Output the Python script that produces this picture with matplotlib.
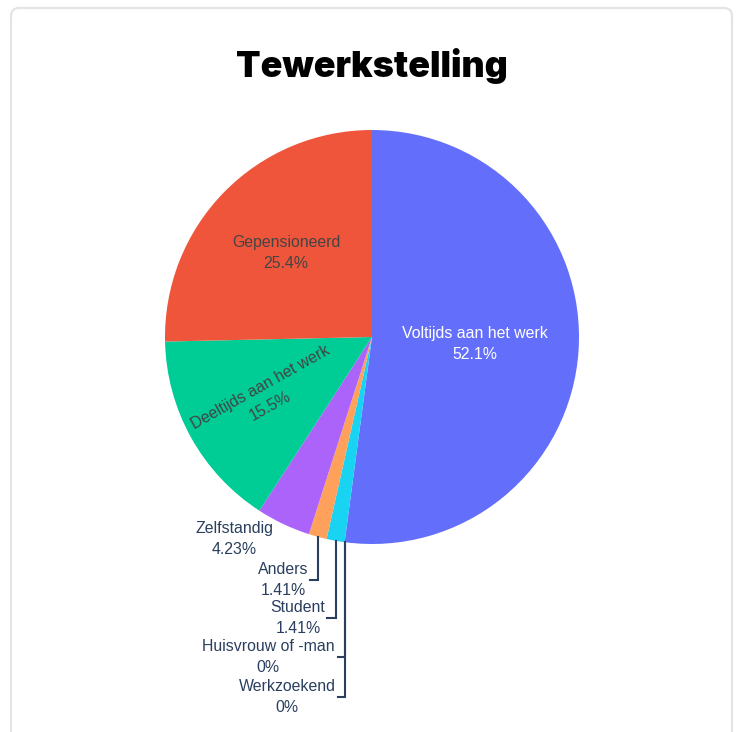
import matplotlib.pyplot as plt
from matplotlib.patches import FancyBboxPatch
import numpy as np

# data (counts of respondents, total 71)
labels = ["Voltijds aan het werk", "Huisvrouw of -man", "Werkzoekend", "Student",
          "Anders", "Zelfstandig", "Deeltijds aan het werk", "Gepensioneerd"]
counts = [37, 0, 0, 1, 1, 3, 11, 18]
pct_text = ["52.1%", "0%", "0%", "1.41%", "1.41%", "4.23%", "15.5%", "25.4%"]
colors = ["#636efa", "#FF6692", "#B6E880", "#19d3f3", "#FFA15A", "#ab63fa", "#00cc96", "#EF553B"]

W, H = 740, 732
CX, CY, R = 372, 337, 207   # pie centre / radius in pixels


def to_data(px, py):
    return (px - CX) / R, (CY - py) / R


def main():
    plt.rcParams['font.family'] = ['Liberation Sans', 'DejaVu Sans']
    fig = plt.figure(figsize=(W / 100, H / 100), dpi=100)

    # card border
    fig.patches.append(FancyBboxPatch((11 / W, -20 / H), 721 / W, (H - 8 + 20) / H,
                                      boxstyle="round,pad=0,rounding_size=0.011",
                                      transform=fig.transFigure, facecolor='white',
                                      edgecolor='#e4e4e4', linewidth=1.6, zorder=-5))

    fig.text(CX / W, 1 - 66 / H, "Tewerkstelling", ha='center', va='center',
             fontsize=25.8, fontweight='black', family=['Inter', 'DejaVu Sans'], color='black')

    ax = fig.add_axes([(CX - R) / W, (H - CY - R) / H, 2 * R / W, 2 * R / H])
    ax.set_facecolor('none')
    wedges, _ = ax.pie(counts, colors=colors, startangle=90, counterclock=False,
                       radius=1, wedgeprops=dict(linewidth=0))
    ax.set_xlim(-1, 1)
    ax.set_ylim(-1, 1)
    ax.axis('off')

    fs = 11.4
    ls = 1.5
    # inside labels: index, radius fraction, text colour, rotate radially
    inside = [(0, 0.50, 'white', False), (6, 0.59, '#444444', True), (7, 0.58, '#444444', False)]
    for i, rf, c, rot in inside:
        w = wedges[i]
        mid = np.deg2rad((w.theta1 + w.theta2) / 2)
        ang = np.rad2deg(mid) - 180 if rot else 0
        ax.text(rf * np.cos(mid), rf * np.sin(mid), f"{labels[i]}\n{pct_text[i]}",
                ha='center', va='center', fontsize=fs, color=c, rotation=ang,
                rotation_mode='anchor', linespacing=ls)

    # outside labels: index, label centre (px), end of leader line x (px) or None
    outside = [(5, (234, 539), None), (4, (283, 580), 310), (3, (298, 618), 327),
               (1, (268, 657), 338), (2, (287, 697), 338)]
    for i, (lx, ly), ex in outside:
        w = wedges[i]
        mid = np.deg2rad((w.theta1 + w.theta2) / 2)
        tx, ty = to_data(lx, ly)
        ax.text(tx, ty, f"{labels[i]}\n{pct_text[i]}", ha='center', va='center',
                fontsize=fs, color='#2a3f5f', linespacing=ls, clip_on=False)
        if ex is not None:
            sx, sy = np.cos(mid), np.sin(mid)
            exd, _ = to_data(ex, ly)
            ax.plot([sx, sx, exd], [sy, ty, ty], color='#2a3f5f', lw=1.5,
                    clip_on=False, solid_joinstyle='miter')

    fig.savefig("out.png", dpi=100)


if __name__ == "__main__":
    main()
